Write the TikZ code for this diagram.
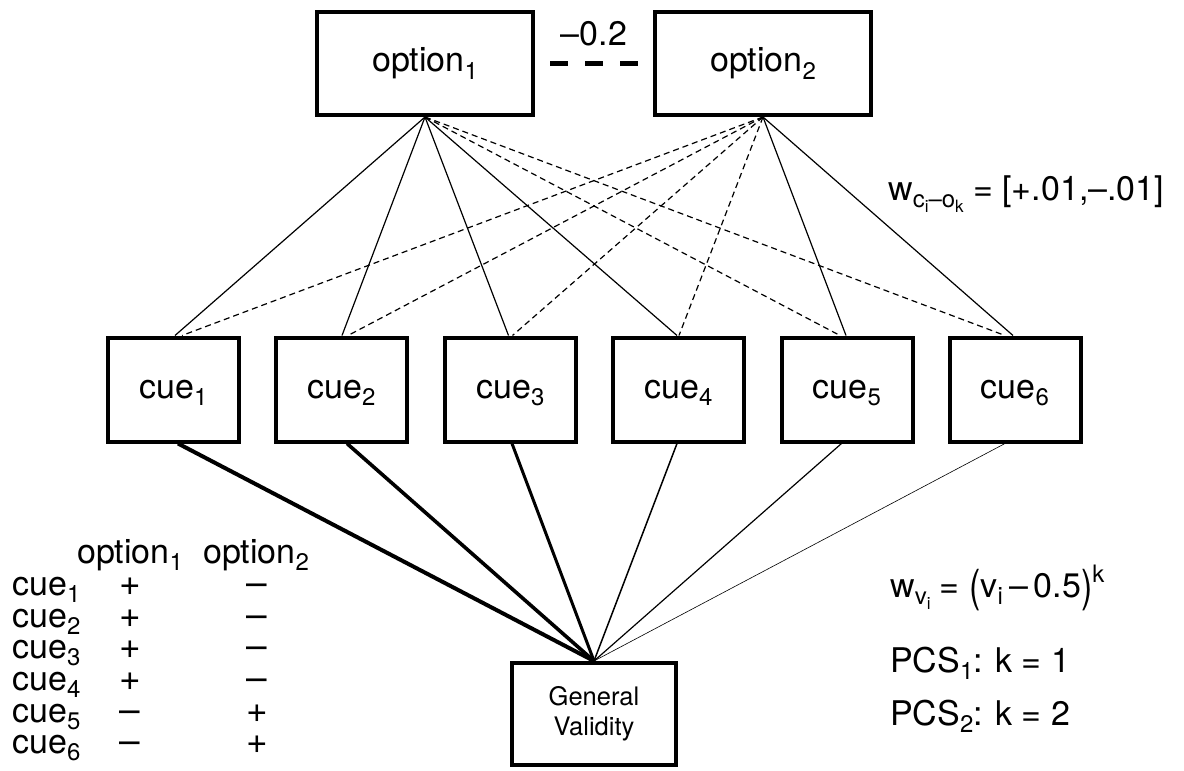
\documentclass[tikz,border=0pt]{standalone}
\usepackage{fontspec}
\setmainfont{TeX Gyre Heros}
\usepackage{graphicx}
\usetikzlibrary{calc}
\newcommand\myfont{\fontsize{34}{40}\selectfont}
\newcommand\gvfont{\fontsize{25.5}{30}\selectfont}
\newcommand\pmfont{\fontsize{37}{40}\selectfont}
\newcommand\sbs[1]{\raisebox{-7.5pt}[0pt][0pt]{\fontsize{24}{24}\selectfont #1}}
\newcommand\ssbs[1]{\raisebox{-5pt}[0pt][0pt]{\fontsize{17}{17}\selectfont #1}}
\newcommand\sps[1]{\raisebox{15pt}[0pt][0pt]{\fontsize{24}{24}\selectfont #1}}
\newcommand\tallp[1]{\raisebox{-0.13em}{\scalebox{1}[1.3]{#1}}}
\begin{document}
\begin{tikzpicture}[x=1pt,y=-1pt,
  every node/.style={font=\myfont, inner sep=0pt},
  box/.style={draw, line width=4pt, fill=white, inner sep=0pt},
  optbox/.style={box, minimum width=216pt, minimum height=103pt},
  cuebox/.style={box, minimum width=131pt, minimum height=104pt},
  gvbox/.style={box, minimum width=164pt, minimum height=102pt, align=center, font=\gvfont},
  posline/.style={line width=1.2pt},
  negline/.style={line width=1.2pt, dash pattern=on 6pt off 4pt},
  lbl/.style={anchor=base west},
  pm/.style={anchor=base, font=\pmfont}
]
\fill[white] (0,0) rectangle (1184,771);
\useasboundingbox (0,0) rectangle (1184,771);

% option nodes
\node[optbox] (o1) at (425,63.5) {option\sbs{1}};
\node[optbox] (o2) at (763,63.5) {option\sbs{2}};
\draw[line width=4.5pt, dash pattern=on 18pt off 17pt, shorten <=15pt, shorten >=15pt] (o1.east) -- (o2.west);
\node (lab) at (594,34) {–0.2};

% cue nodes
\foreach \i/\x in {1/173.5,2/341.5,3/510.5,4/678.5,5/847,6/1015}
  \node[cuebox] (c\i) at (\x,389.5) {cue\sbs{\i}};

% general validity
\node[gvbox] (gv) at (594,714) {General\\Validity};

% option -> cue connections
\foreach \i/\s/\d in {1/1.5/8.5,2/0.5/6.5,3/-2/2,4/-1.5/0.5}{
  \draw[posline] (o1.south) -- ($(c\i.north)+(\s,0)$);
  \draw[negline] (o2.south) -- ($(c\i.north)+(\d,0)$);
}
\foreach \i/\s/\d in {5/-1/-7,6/-2/-10}{
  \draw[posline] (o2.south) -- ($(c\i.north)+(\s,0)$);
  \draw[negline] (o1.south) -- ($(c\i.north)+(\d,0)$);
}

% cue -> general validity
\foreach \i/\s/\w in {1/4.5/4,2/5.5/3.6,3/1.5/3,4/-1.5/1.5,5/-5.5/1.2,6/-10/0.6}
  \draw[line width=\w pt] ($(c\i.south)+(\s,0)$) -- (gv.north);

% table
\node[lbl] (h1) at (77,563) {option\sbs{1}};
\node[lbl] (h2) at (203,563) {option\sbs{2}};
\foreach \i/\y/\a/\b in {1/595/+/–,2/627/+/–,3/658/+/–,4/690/+/–,5/722/–/+,6/753/–/+}{
  \node[lbl] (t\i) at (12,\y) {cue\sbs{\i}};
  \node[pm] (a\i) at (130,\y) {\a};
  \node[pm] (b\i) at (257,\y) {\b};
}

% formulas
\node[lbl] (wc) at (888,200) {w\sbs{c\ssbs{i}–o\ssbs{k}} = [+.01,–.01]};
\node[lbl] (wv) at (890,597) {w\sbs{v\ssbs{i}} = \tallp{(}v\sbs{i}\hspace{7pt}–\hspace{5pt}0.5\tallp{)}\sps{k}};
\node[lbl] (pcs1) at (890,672) {PCS\sbs{1}: k = 1};
\node[lbl] (pcs2) at (890,725) {PCS\sbs{2}: k = 2};
\end{tikzpicture}
\end{document}
